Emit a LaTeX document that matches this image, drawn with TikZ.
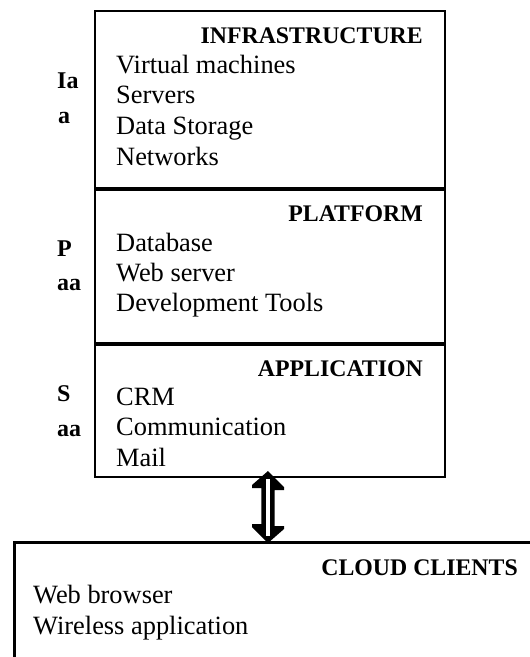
\documentclass[tikz,border=0pt]{standalone}
\usepackage{fontspec}
\setmainfont{Liberation Serif}
\begin{document}
\begin{tikzpicture}[x=1pt,y=-1pt,
  sect/.style={draw, line width=2pt, minimum width=350pt, inner sep=0pt, anchor=north west},
  divider/.style={line width=3.5pt},
  item/.style={anchor=base west, inner sep=0pt, font=\fontsize{26.4}{30}\selectfont},
  head/.style={anchor=base east, inner sep=0pt, font=\fontsize{23.8}{28}\selectfont\bfseries},
  side/.style={anchor=base west, inner sep=0pt, font=\fontsize{24}{28}\selectfont\bfseries},
  arrowbody/.style={fill=black},
  arrowslit/.style={fill=white}]
\useasboundingbox (0,0) rectangle (530,657);
\clip (0,0) rectangle (530,657);

% stack boxes
\node[sect, minimum height=177pt] (infra) at (94,10) {};
\node[sect, minimum height=155pt] (plat) at (94,187) {};
\node[sect, minimum height=134pt] (app) at (94,342) {};
\draw[divider] (infra.south west) -- (infra.south east);
\draw[divider] (plat.south west) -- (plat.south east);

% clients box
\node[sect, minimum width=600pt, minimum height=200pt, line width=2.5pt] (clients) at (13,541) {};

% infrastructure
\node[head] (h1) at (423,43) {INFRASTRUCTURE};
\node[item] (i11) at (116,73) {Virtual machines};
\node[item] (i12) at (116,103) {Servers};
\node[item] (i13) at (116,134) {Data Storage};
\node[item] (i14) at (116,165) {Networks};
\node[side] (s11) at (57,88) {Ia};
\node[side] (s12) at (58,123) {a};

% platform
\node[head] (h2) at (423,221.5) {PLATFORM};
\node[item] (i21) at (116,251.5) {Database};
\node[item] (i22) at (116,281) {Web server};
\node[item] (i23) at (116,311.5) {Development Tools};
\node[side] (s21) at (57,256.5) {P};
\node[side] (s22) at (57,290) {aa};

% application
\node[head] (h3) at (423,376.5) {APPLICATION};
\node[item] (i31) at (116,405) {CRM};
\node[item] (i32) at (116,435.5) {Communication};
\node[item] (i33) at (116,466.5) {Mail};
\node[side] (s31) at (57,401.5) {S};
\node[side] (s32) at (57,436.5) {aa};

% clients
\node[head] (h4) at (518,575) {CLOUD CLIENTS};
\node[item] (i41) at (33,603) {Web browser};
\node[item] (i42) at (33,634) {Wireless application};

% double arrow between the stack and the clients
\coordinate (atop) at ([xshift=-2pt,yshift=7pt]app.south);
\coordinate (abot) at ([yshift=-2pt]atop |- clients.north);
\path[arrowbody] (atop) -- ++(16,16) -- ++(0,3) -- ++(-9.3,0) -- ++(0,36) -- ++(9.3,0) -- ++(0,3)
  -- (abot) -- ++(-16,-16) -- ++(0,-3) -- ++(9.3,0) -- ++(0,-36) -- ++(-9.3,0) -- ++(0,-3) -- cycle;
\path[arrowslit] ([shift={(-2.3,8)}]atop) rectangle ([shift={(2.3,-7)}]abot);
\end{tikzpicture}
\end{document}
